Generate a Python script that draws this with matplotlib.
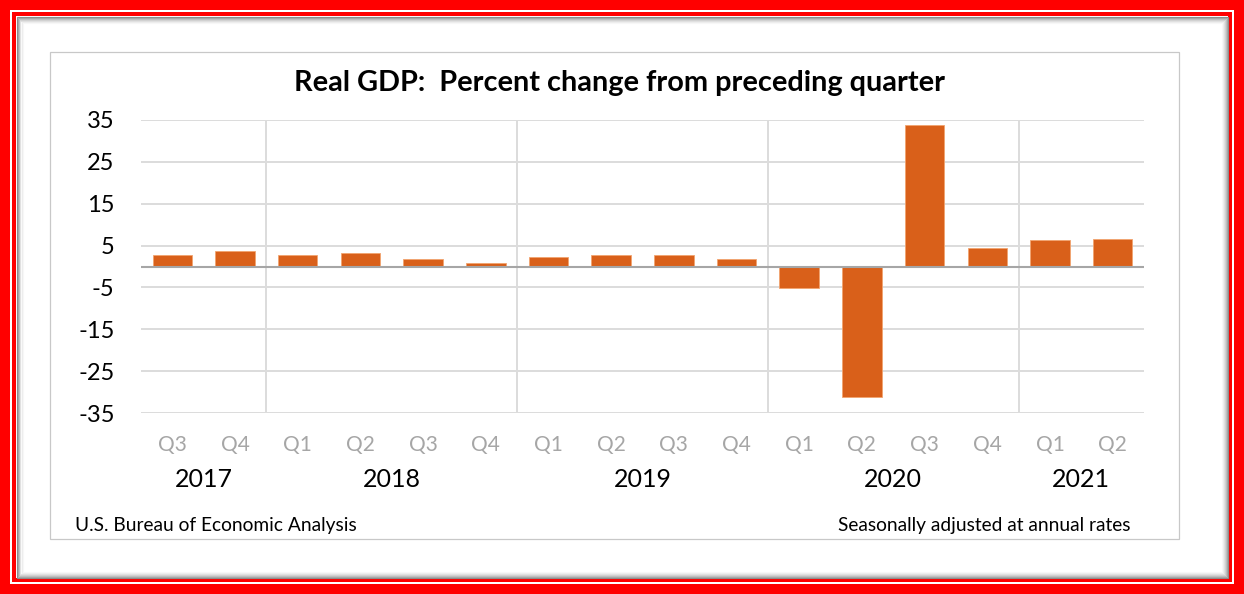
import matplotlib
matplotlib.use("Agg")
import matplotlib.pyplot as plt
from matplotlib.patches import Rectangle
import numpy as np

# ---- data ----
quarters = ["Q3", "Q4", "Q1", "Q2", "Q3", "Q4", "Q1", "Q2", "Q3", "Q4",
            "Q1", "Q2", "Q3", "Q4", "Q1", "Q2"]
years = ["2017", "2018", "2019", "2020", "2021"]
year_counts = [2, 4, 4, 4, 2]
gdp_change = [2.8, 3.8, 2.8, 3.3, 1.9, 0.8, 2.3, 2.8, 2.8, 1.9,
              -5.1, -31.2, 33.8, 4.4, 6.3, 6.5]
yticks = [35, 25, 15, 5, -5, -15, -25, -35]
title = "Real GDP:  Percent change from preceding quarter"
source = "U.S. Bureau of Economic Analysis"
note = "Seasonally adjusted at annual rates"

W, H = 1244, 594
plt.rcParams['font.family'] = ['Lato', 'DejaVu Sans']
fig = plt.figure(figsize=(W / 100, H / 100), dpi=100)
fig.patch.set_facecolor("#ff0000")


def rect(x0, y0, x1, y1, **kw):
    """pixel coords, y from top"""
    r = Rectangle((x0 / W, 1 - y1 / H), (x1 - x0) / W, (y1 - y0) / H,
                  transform=fig.transFigure, zorder=-5, **kw)
    fig.patches.append(r)
    return r


# red frame with white line, then inner shadowed white area
rect(10, 10, W - 10, H - 10, facecolor="white", edgecolor="none")
rect(12, 12, W - 12, H - 12, facecolor="#ff0000", edgecolor="none")
rect(16, 16, W - 16, H - 16, facecolor="white", edgecolor="none")
shades = [0.55, 0.65, 0.74, 0.82, 0.88, 0.93, 0.97]
for k, g in enumerate(shades):
    rect(16 + k + 0.5, 16 + k + 0.5, W - 16 - k - 0.5, H - 16 - k - 0.5,
         facecolor="none", edgecolor=(g, g, g), linewidth=0.8)
# chart panel
rect(50, 52, 1179, 539, facecolor="white", edgecolor="#c8c8c8", linewidth=0.9)

# ---- axes ----
ax_l, ax_r, ax_t, ax_b = 141, 1144, 120, 413
ax = fig.add_axes([ax_l / W, 1 - ax_b / H, (ax_r - ax_l) / W, (ax_b - ax_t) / H])
ax.set_zorder(5)
ax.set_facecolor("none")
n = len(gdp_change)
x = np.arange(n)
ax.set_xlim(-0.5, n - 0.5)
ax.set_ylim(-35, 35)
for yv in yticks:
    ax.axhline(yv, color="#dcdcdc", linewidth=1.4, zorder=0)
bounds = np.cumsum(year_counts)[:-1] - 0.5
for b in bounds:
    ax.axvline(b, color="#dcdcdc", linewidth=1.4, zorder=0)
ax.bar(x, gdp_change, width=0.63, color="#d9601a", edgecolor="#f2a46f",
       linewidth=0.6, zorder=2)
ax.axhline(0, color="#a6a6a6", linewidth=1.5, zorder=3)

for s in ax.spines.values():
    s.set_visible(False)
ax.set_yticks(yticks)
ax.set_yticklabels([str(v) for v in yticks], fontsize=17, color="black")
ax.tick_params(axis="y", length=0, pad=19)
ax.set_xticks(x)
ax.set_xticklabels(quarters, fontsize=15, color="#a6a6a6")
ax.tick_params(axis="x", length=0, pad=16)

# year labels
start = 0
for yr, c in zip(years, year_counts):
    center = start + (c - 1) / 2
    ax.text(center, -50.8, yr, fontsize=18, color="black", ha="center", va="center",
            transform=ax.transData, clip_on=False)
    start += c

fig.text(619 / W, 1 - 83 / H, title, fontsize=20.8, fontweight="bold",
         ha="center", va="center", color="black")
fig.text(75 / W, 1 - 526 / H, source, fontsize=13.8, ha="left", va="center",
         color="black")
fig.text(1130 / W, 1 - 526 / H, note, fontsize=13.8, ha="right", va="center",
         color="black")

fig.savefig("out.png", dpi=100, facecolor=fig.get_facecolor())
